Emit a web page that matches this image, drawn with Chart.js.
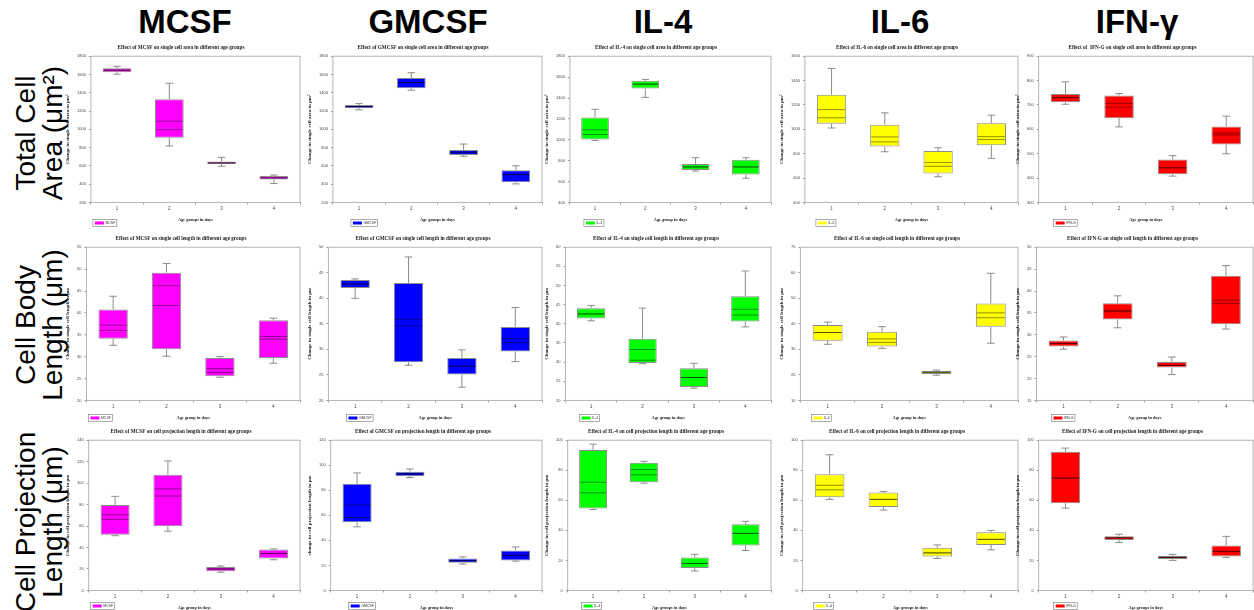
<!DOCTYPE html>
<html>
<head>
<meta charset="utf-8">
<script src="https://cdn.jsdelivr.net/npm/chart.js@4.4.0/dist/chart.umd.min.js"></script>
<style>
    body { margin: 0; width: 1254px; height: 610px; background: #fff; position: relative; overflow: hidden; font-family: "Liberation Sans", Arial, sans-serif; }
    .head { position: absolute; top: 5px; font-weight: bold; font-size: 33px; line-height: 33px; transform: translateX(-50%); white-space: nowrap; color: #000; }
    .rowlab { position: absolute; font-size: 28px; line-height: 27px; text-align: center; white-space: nowrap; color: #000; transform: translate(-50%, -50%) rotate(-90deg); }
    canvas { position: absolute; }
</style>
</head>
<body>
<div class="head" style="left:185px">MCSF</div>
<div class="head" style="left:428px">GMCSF</div>
<div class="head" style="left:663px">IL-4</div>
<div class="head" style="left:900px">IL-6</div>
<div class="head" style="left:1137px">IFN-γ</div>

<script>
(function () {
    "use strict";

    // categories
    const ageGroups = ['1', '2', '3', '4'];
    const cytokines = ['MCSF', 'GMCSF', 'IL-4', 'IL-6', 'IFN-G'];
    const boxColors = ['#ff00ff', '#0000ff', '#00ff00', '#ffff00', '#ff0000'];

    // each group: [lower whisker, q1, median, mean, q3, upper whisker]
    const mcsfArea = [[1604, 1625, 1646, 1650, 1668, 1689], [818, 907, 996, 1089, 1329, 1504], [596, 621, 632, 632, 647, 693], [407, 450, 468, 468, 489, 500]];
    const gmcsfArea = [[1213, 1231, 1249, 1249, 1267, 1282], [1429, 1451, 1512, 1512, 1562, 1620], [706, 720, 749, 749, 774, 839], [403, 421, 504, 504, 551, 601]];
    const il4Area = [[994, 1003, 1051, 1095, 1213, 1292], [1406, 1492, 1533, 1533, 1565, 1578], [701, 711, 740, 740, 768, 828], [632, 667, 740, 740, 809, 828]];
    const il6Area = [[1011, 1046, 1095, 1162, 1284, 1500], [816, 859, 897, 938, 1038, 1135], [611, 638, 697, 727, 822, 849], [762, 870, 916, 940, 1051, 1116]];
    const ifngArea = [[703, 711, 730, 730, 745, 795], [610, 646, 691, 707, 739, 747], [408, 416, 442, 442, 476, 492], [500, 538, 577, 585, 612, 654]];

    const mcsfLength = [[32.6, 34.1, 36.0, 37.2, 40.8, 43.8], [30.1, 31.7, 41.7, 46.2, 49.2, 51.3], [25.3, 25.5, 26.4, 27.3, 29.7, 30.0], [28.5, 29.7, 34.0, 34.6, 38.3, 38.8]];
    const gmcsfLength = [[40.0, 42.0, 42.8, 42.8, 43.6, 43.8], [26.9, 27.5, 34.6, 35.9, 43.0, 48.1], [22.6, 25.1, 26.7, 26.7, 28.3, 29.9], [27.6, 29.6, 31.3, 32.1, 34.4, 38.2]];
    const il4Length = [[40.8, 41.4, 42.6, 42.6, 44.1, 44.8], [29.6, 29.8, 30.5, 33.3, 36.1, 44.1], [23.2, 23.5, 26.0, 26.0, 28.4, 29.7], [39.2, 40.6, 42.3, 43.8, 47.2, 53.8]];
    const il6Length = [[32.0, 33.4, 36.6, 36.6, 39.5, 40.7], [30.4, 31.1, 32.7, 34.1, 36.9, 38.9], [19.9, 20.4, 21.0, 21.0, 21.5, 21.9], [32.4, 38.9, 42.4, 44.3, 48.0, 59.8]];
    const ifngLength = [[26.7, 27.3, 28.0, 28.0, 28.7, 29.5], [31.6, 33.5, 35.3, 35.6, 37.2, 38.9], [20.9, 22.5, 23.0, 23.0, 23.8, 24.9], [31.3, 32.4, 37.2, 37.9, 43.5, 45.8]];

    const mcsfProj = [[51.0, 51.9, 66.3, 70.5, 79.7, 87.7], [55.2, 59.8, 88.0, 94.7, 107.9, 120.7], [17.0, 17.9, 20.0, 20.0, 21.9, 22.8], [28.6, 29.8, 34.4, 34.4, 38.1, 38.7]];
    const gmcsfProj = [[50.8, 54.5, 58.2, 68.3, 85.3, 93.9], [90.2, 91.3, 93.1, 93.1, 94.9, 97.0], [21.1, 22.1, 23.7, 23.7, 25.5, 26.8], [23.4, 24.0, 28.1, 28.1, 32.0, 34.7]];
    const il4Proj = [[53.9, 54.5, 65, 72, 93.5, 97.4], [71.4, 72, 77, 80.5, 85, 86], [13, 15, 18, 18, 22, 24], [26.6, 30, 38, 38, 44, 46]];
    const il6Proj = [[60.6, 62, 67, 70, 77.4, 90.3], [53.5, 55.5, 60.6, 60.6, 65.2, 65.8], [21.3, 22.6, 25, 25, 28.4, 30.3], [27, 30.3, 34, 34, 38.7, 40]];
    const ifngProj = [[54.8, 58, 74.8, 74.8, 92.3, 94.8], [32, 33.5, 35, 35, 36, 37.4], [20, 21, 22, 22, 23, 24], [22, 22.6, 26, 26, 30, 36]];

    // y axis ticks: [min, max, step]
    const areaTicks = [[200, 1800, 200], [200, 1800, 200], [400, 1800, 200], [400, 1600, 200], [300, 900, 100]];
    const lengthTicks = [[20, 55, 5], [20, 50, 5], [20, 60, 5], [10, 70, 10], [15, 50, 5]];
    const projTicks = [[0, 140, 20], [0, 120, 20], [0, 100, 20], [0, 100, 20], [0, 100, 20]];

    const areaTitles = ['Effect of MCSF on single cell area in different age groups', 'Effect of GMCSF on single cell area in different age groups', 'Effect of IL-4 on single cell area in different age groups', 'Effect of IL-6 on single cell area in different age groups', 'Effect of  IFN-G on single cell area in different age groups'];
    const lengthTitles = ['Effect of MCSF on single cell length in different age groups', 'Effect of GMCSF on single cell length in different age groups', 'Effect of IL-4 on single cell length in different age groups', 'Effect of IL-6 on single cell length in different age groups', 'Effect of IFN-G on single cell length in different age groups'];
    const projTitles = ['Effect of MCSF on cell projection length in different age groups', 'Effect of GMCSF on projection length in different age groups', 'Effect of IL-4 on cell projection length in different age groups', 'Effect of IL-6 on cell projection length in different age groups', 'Effect of IFN-G on cell projection length in different age groups'];

    const areaXTitles = ['Age groups in days', 'Age groups in days', 'Age group in days', 'Age group in days', 'Age group in days'];
    const lengthXTitles = ['Age group in days', 'Age group in days', 'Age group in days', 'Age group in days', 'Age group in days'];
    const projXTitles = ['Age group in days', 'Age group in days', 'Age groups in days', 'Age groups in days', 'Age groups in days'];

    const rowLabels = [['Total Cell', 'Area (μm²)'], ['Cell Body', 'Length (μm)'], ['Cell Projection', 'Length (μm)']];

    const rows = [
        { stats: [mcsfArea, gmcsfArea, il4Area, il6Area, ifngArea], ticks: areaTicks, titles: areaTitles, xTitles: areaXTitles, yTitle: 'Change in single cell area in μm²' },
        { stats: [mcsfLength, gmcsfLength, il4Length, il6Length, ifngLength], ticks: lengthTicks, titles: lengthTitles, xTitles: lengthXTitles, yTitle: 'Change in single cell length in μm' },
        { stats: [mcsfProj, gmcsfProj, il4Proj, il6Proj, ifngProj], ticks: projTicks, titles: projTitles, xTitles: projXTitles, yTitle: 'Change in cell projection length in μm' }
    ];

    const colLeft = [62, 304, 541, 776, 1012];
    const colWidth = [244, 244, 236, 246, 242];
    const padRight = [6, 6, 6, 4, 1];
    const rowTop = [40, 231, 422];
    const rowHeight = [190, 191, 188];
    const rowMid = [133, 325, 522];
    const padBottom = [8, 2, 0];
    const padTop = [0, 0, 2];
    const legendShift = [2, 18, 14, 11, 15];

    const serif = 'Liberation Serif';

    rowLabels.forEach((lines, r) => {
        const d = document.createElement('div');
        d.className = 'rowlab';
        d.style.left = '39px';
        d.style.top = rowMid[r] + 'px';
        d.innerHTML = lines.join('<br>');
        document.body.appendChild(d);
    });

    function pix(scale, v) {
        return scale.getPixelForValue(v);
    }

    const boxPlugin = {
        id: 'boxes',
        beforeDatasetsDraw(chart) {
            const ctx = chart.ctx;
            const y = chart.scales.y;
            const stats = chart.data.datasets[0].stats;
            ctx.save();
            ctx.strokeStyle = '#8c8c8c';
            ctx.lineWidth = 1;
            chart.getDatasetMeta(0).data.forEach((bar, i) => {
                const s = stats[i];
                const cap = bar.width * 0.13;
                ctx.beginPath();
                ctx.moveTo(bar.x, pix(y, s[4]));
                ctx.lineTo(bar.x, pix(y, s[5]));
                ctx.moveTo(bar.x - cap, pix(y, s[5]));
                ctx.lineTo(bar.x + cap, pix(y, s[5]));
                ctx.moveTo(bar.x, pix(y, s[1]));
                ctx.lineTo(bar.x, pix(y, s[0]));
                ctx.moveTo(bar.x - cap, pix(y, s[0]));
                ctx.lineTo(bar.x + cap, pix(y, s[0]));
                ctx.stroke();
            });
            ctx.restore();
        },
        afterDatasetsDraw(chart) {
            const ctx = chart.ctx;
            const y = chart.scales.y;
            const stats = chart.data.datasets[0].stats;
            ctx.save();
            ctx.strokeStyle = 'rgba(0,0,0,0.55)';
            ctx.lineWidth = 0.8;
            chart.getDatasetMeta(0).data.forEach((bar, i) => {
                const s = stats[i];
                const half = bar.width / 2 - 1;
                [s[2], s[3]].forEach(v => {
                    ctx.beginPath();
                    ctx.moveTo(bar.x - half, pix(y, v));
                    ctx.lineTo(bar.x + half, pix(y, v));
                    ctx.stroke();
                });
            });
            const a = chart.chartArea;
            ctx.strokeStyle = '#b4b4b4';
            ctx.lineWidth = 1;
            ctx.strokeRect(a.left, a.top, a.right - a.left, a.bottom - a.top);
            ctx.restore();
        },
        afterDraw(chart) {
            // small framed legend next to the x axis title
            const ctx = chart.ctx;
            const ds = chart.data.datasets[0];
            const lx = chart.chartArea.left + ds.legendShift;
            const ly = Math.min(chart.scales.x.bottom + 1, chart.height - 4);
            ctx.save();
            ctx.font = '3.5px "Liberation Sans"';
            const w = 14 + ctx.measureText(ds.label).width;
            ctx.strokeStyle = '#777';
            ctx.lineWidth = 0.6;
            ctx.strokeRect(lx, ly - 3.5, w, 7);
            ctx.fillStyle = ds.backgroundColor;
            ctx.fillRect(lx + 2, ly - 1.5, 9, 3);
            ctx.fillStyle = '#333';
            ctx.textBaseline = 'middle';
            ctx.fillText(ds.label, lx + 12.5, ly);
            ctx.restore();
        }
    };

    rows.forEach((row, r) => {
        cytokines.forEach((name, c) => {
            const cv = document.createElement('canvas');
            cv.width = colWidth[c];
            cv.height = rowHeight[r];
            cv.style.left = colLeft[c] + 'px';
            cv.style.top = rowTop[r] + 'px';
            document.body.appendChild(cv);

            const stats = row.stats[c];
            const t = row.ticks[c];
            let yTitle = row.yTitle;
            if (r === 2 && c === 1) {
                yTitle = 'change in cell projection length in μm';
            }

            new Chart(cv.getContext('2d'), {
                type: 'bar',
                data: {
                    labels: ageGroups,
                    datasets: [{
                        label: name,
                        data: stats.map(s => [s[1], s[4]]),
                        stats: stats,
                        legendShift: legendShift[c],
                        backgroundColor: boxColors[c],
                        borderColor: '#8c8c8c',
                        borderWidth: 1,
                        borderSkipped: false,
                        barPercentage: 0.55,
                        categoryPercentage: 1
                    }]
                },
                options: {
                    responsive: false,
                    animation: false,
                    layout: { padding: { left: 0, right: padRight[c], top: padTop[r], bottom: padBottom[r] } },
                    plugins: {
                        legend: { display: false },
                        tooltip: { enabled: false },
                        title: {
                            display: true,
                            text: row.titles[c],
                            color: '#222',
                            font: { family: serif, size: 5.2, weight: 'bold' },
                            padding: { top: 5, bottom: 5 }
                        }
                    },
                    scales: {
                        x: {
                            grid: { drawOnChartArea: false, tickLength: 2, color: '#999' },
                            border: { display: false },
                            ticks: { color: '#444', font: { size: 4.5 }, padding: 2 },
                            title: { display: true, text: row.xTitles[c], color: '#222', font: { family: serif, size: 4.3, weight: 'bold' }, padding: { top: 3, bottom: 0 } }
                        },
                        y: {
                            min: t[0],
                            max: t[1],
                            grid: { drawOnChartArea: false, tickLength: 2, color: '#999' },
                            border: { display: false },
                            ticks: { stepSize: t[2], color: '#444', font: { size: 4 }, padding: 3, callback: v => String(v) },
                            title: { display: true, text: yTitle, color: '#222', font: { family: serif, size: 5, weight: 'bold' }, padding: 3 }
                        }
                    }
                },
                plugins: [boxPlugin]
            });
        });
    });
})();
</script>
</body>
</html>
